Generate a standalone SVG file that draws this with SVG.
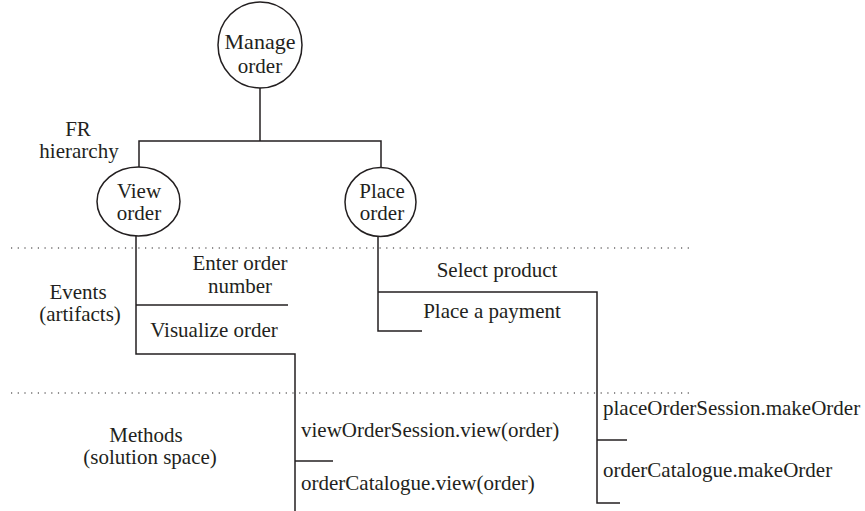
<svg xmlns="http://www.w3.org/2000/svg" width="865" height="511" viewBox="0 0 865 511">
<style>
  text { font-family: 'Liberation Serif', 'Times New Roman', serif; font-size: 21px; fill: #231f20; }
  .c { text-anchor: middle; }
  .node { fill: #ffffff; stroke: #231f20; stroke-width: 1.5; }
  .line { fill: none; stroke: #231f20; stroke-width: 1.5; }
  .dot { fill: none; stroke: #231f20; stroke-width: 1.2; stroke-dasharray: 1.2 5.5; }
</style>
<rect width="865" height="511" fill="#ffffff"/>
<g id="separators">
  <line class="dot" x1="11" y1="248" x2="691" y2="248"/>
  <line class="dot" x1="11" y1="393" x2="691" y2="393"/>
</g>
<g id="connectors">
  <polyline class="line" points="260,87 260,141"/>
  <polyline class="line" points="139,167 139,141 381,141 381,168"/>
  <polyline class="line" points="136,236 136,354 295,354 295,511"/>
  <polyline class="line" points="136,305 288,305"/>
  <polyline class="line" points="295,461 333,461"/>
  <polyline class="line" points="378,237 378,331 422,331"/>
  <polyline class="line" points="378,292 597,292 597,503 620,503"/>
  <polyline class="line" points="597,440 627,440"/>
</g>
<g id="manage-order">
  <ellipse class="node" cx="260" cy="45" rx="42" ry="43"/>
  <text class="c" x="260" y="49" style="font-size:22px">Manage</text>
  <text class="c" x="260" y="73">order</text>
</g>
<g id="view-order">
  <ellipse class="node" cx="138.5" cy="201.5" rx="41.5" ry="34.5"/>
  <text class="c" x="139" y="198">View</text>
  <text class="c" x="139" y="220">order</text>
</g>
<g id="place-order">
  <ellipse class="node" cx="380.5" cy="202" rx="35.5" ry="34.5"/>
  <text class="c" x="382" y="198">Place</text>
  <text class="c" x="382" y="220">order</text>
</g>
<g id="labels">
  <text class="c" x="78" y="136">FR</text>
  <text class="c" x="79" y="158">hierarchy</text>
  <text class="c" x="78" y="299">Events</text>
  <text class="c" x="80" y="321">(artifacts)</text>
  <text class="c" x="146" y="442">Methods</text>
  <text class="c" x="150" y="464">(solution space)</text>
</g>
<g id="events">
  <text class="c" x="240" y="270">Enter order</text>
  <text class="c" x="240" y="293">number</text>
  <text class="c" x="214" y="337">Visualize order</text>
  <text class="c" x="497" y="277">Select product</text>
  <text class="c" x="492" y="318">Place a payment</text>
</g>
<g id="methods">
  <text x="301" y="437">viewOrderSession.view(order)</text>
  <text x="301" y="490">orderCatalogue.view(order)</text>
  <text x="603" y="415">placeOrderSession.makeOrder</text>
  <text x="603" y="477">orderCatalogue.makeOrder</text>
</g>
</svg>
